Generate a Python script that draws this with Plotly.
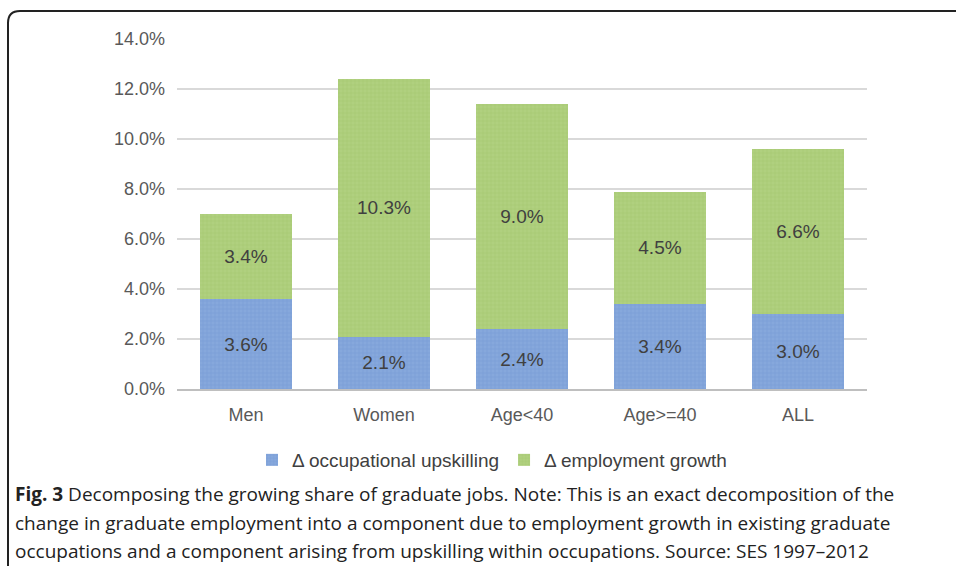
import plotly.graph_objects as go

categories = ["Men", "Women", "Age<40", "Age>=40", "ALL"]
upskilling = [3.6, 2.1, 2.4, 3.4, 3.0]
growth = [3.4, 10.3, 9.0, 4.5, 6.6]
tick_vals = [0, 2, 4, 6, 8, 10, 12, 14]
tick_text = ["0.0%", "2.0%", "4.0%", "6.0%", "8.0%", "10.0%", "12.0%", "14.0%"]

W, H = 956, 566
L, R, T, B = 177, 867, 39, 389

def px2x(p):
    return (p - L) / (R - L)

def px2y(p):
    return (B - p) / (B - T)

fig = go.Figure()
fig.add_trace(go.Bar(
    x=categories, y=upskilling, name="Δ occupational upskilling",
    marker=dict(color="#86a8dc", line=dict(width=0),
                pattern=dict(shape="+", fgcolor="#6f93cf", size=4, solidity=0.3)),
    text=[f"{v:.1f}%" for v in upskilling], textposition="inside",
    insidetextanchor="middle", textfont=dict(size=19, color="#404040"),
))
fig.add_trace(go.Bar(
    x=categories, y=growth, name="Δ employment growth",
    marker=dict(color="#b0d07f", line=dict(width=0),
                pattern=dict(shape="+", fgcolor="#9cc266", size=4, solidity=0.3)),
    text=[f"{v:.1f}%" for v in growth], textposition="inside",
    insidetextanchor="middle", textfont=dict(size=19, color="#404040"),
))

fig.update_layout(
    width=W, height=H, barmode="stack", bargap=0.33,
    margin=dict(l=L, r=W - R, t=T, b=H - B),
    paper_bgcolor="white", plot_bgcolor="white",
    font=dict(family="Liberation Sans, Arial, sans-serif", size=18, color="#595959"),
    showlegend=True,
    legend=dict(orientation="h", x=px2x(492), xanchor="center", y=px2y(460), yanchor="middle",
                font=dict(size=19, color="#404040"), itemwidth=30, traceorder="normal"),
    uniformtext=dict(mode="show", minsize=19),
)
fig.update_xaxes(showgrid=False, showline=True, linecolor="#bfbfbf", linewidth=2,
                 ticks="", ticklabelstandoff=8, tickfont=dict(size=18, color="#595959"))
fig.update_yaxes(range=[0, 14], tickvals=tick_vals, ticktext=tick_text,
                 showgrid=True, gridcolor="#d9d9d9", gridwidth=1.5, zeroline=False,
                 ticks="", ticklabelstandoff=11, tickfont=dict(size=18, color="#595959"))

# frame (rounded rectangle)
xl, xr = px2x(8), px2x(965)
yt, yb = px2y(11), px2y(580)
rx, ry = 12 / (R - L), 12 / (B - T)
path = (f"M {xl} {yb} L {xl} {yt - ry} Q {xl} {yt} {xl + rx} {yt} L {xr} {yt}")
fig.add_shape(type="path", path=path, xref="paper", yref="paper",
              line=dict(color="#222222", width=2))

caption_lines = [
    "<b>Fig. 3</b> Decomposing the growing share of graduate jobs. Note: This is an exact decomposition of the",
    "change in graduate employment into a component due to employment growth in existing graduate",
    "occupations and a component arising from upskilling within occupations. Source: SES 1997–2012",
]
for i, line in enumerate(caption_lines):
    fig.add_annotation(text=line, xref="paper", yref="paper", x=px2x(13), y=px2y(494 + 28.5 * i),
                       xanchor="left", yanchor="middle", showarrow=False,
                       font=dict(family="Open Sans, sans-serif", size=19, color="#222222"))

fig.write_html("out.html", config={"displayModeBar": False},
               post_script="document.body.style.margin='0';document.body.style.overflow='hidden';")
